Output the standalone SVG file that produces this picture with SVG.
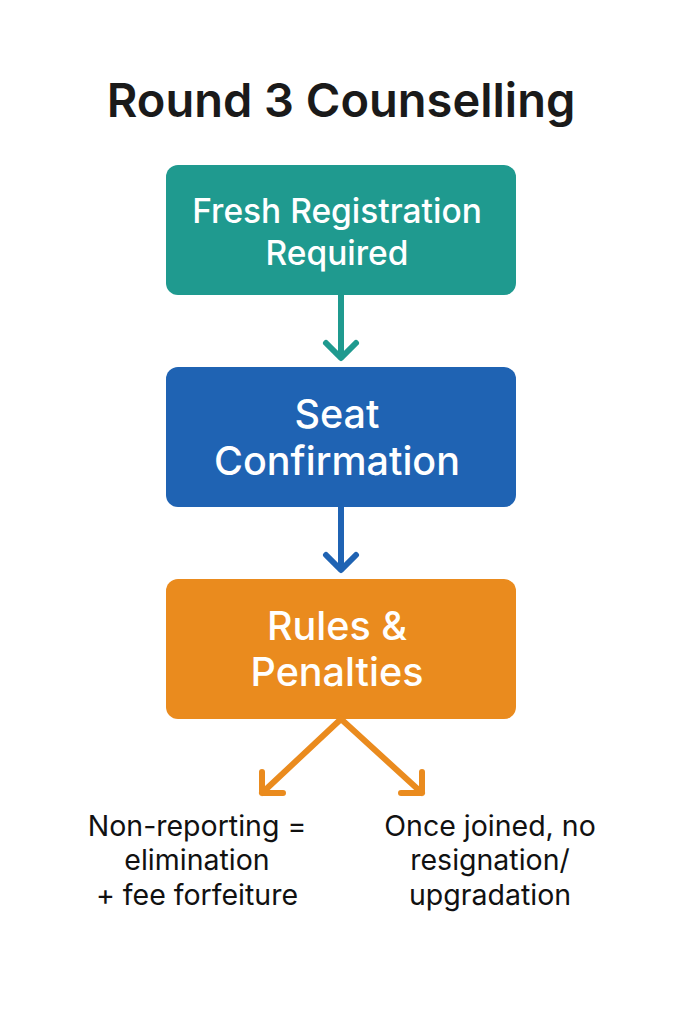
<svg xmlns="http://www.w3.org/2000/svg" width="683" height="1024" viewBox="0 0 683 1024">
<style>
text{font-family:Inter,"Noto Sans",sans-serif;text-anchor:middle}
.w{fill:#fff;font-weight:500}
.b{fill:#111;font-size:28.5px}
.c{fill:none;stroke-width:6;stroke-linecap:round;stroke-linejoin:round}
</style>
<rect width="683" height="1024" fill="#fff"/>
<text x="341" y="117" font-size="47" font-weight="600" fill="#1a1a1a">Round 3 Counselling</text>
<g id="n1"><rect x="166" y="165" width="350" height="130" rx="12" fill="#1f9a8f"/>
<text class="w" x="337" y="223" font-size="33.5">Fresh Registration</text><text class="w" x="337" y="265" font-size="33.5">Required</text></g>
<g id="n2"><rect x="166" y="367" width="350" height="140" rx="12" fill="#1f63b3"/>
<text class="w" x="337" y="428" font-size="39.5">Seat</text><text class="w" x="337" y="475" font-size="39.5">Confirmation</text></g>
<g id="n3"><rect x="166" y="579" width="350" height="140" rx="12" fill="#ea8b1e"/>
<text class="w" x="337" y="640" font-size="39.5">Rules &amp;</text><text class="w" x="337" y="686" font-size="39.5">Penalties</text></g>
<g id="connectors">
<path class="c" stroke="#1f9a8f" d="M341 295V356M326 343L341 358L356 343"/>
<path class="c" stroke="#1f63b3" d="M341 507V568M326 555L341 570L356 555"/>
<path class="c" stroke="#ea8b1e" d="M341 719L262 793M262 772V793H283"/>
<path class="c" stroke="#ea8b1e" d="M341 719L422 793M422 772V793H401"/>
</g>
<g id="t1"><text class="b" x="197" y="836">Non-reporting =</text><text class="b" x="197" y="870">elimination</text><text class="b" x="197" y="905">+ fee forfeiture</text></g>
<g id="t2"><text class="b" x="490" y="836">Once joined, no</text><text class="b" x="490" y="870">resignation/</text><text class="b" x="490" y="905">upgradation</text></g>
</svg>
